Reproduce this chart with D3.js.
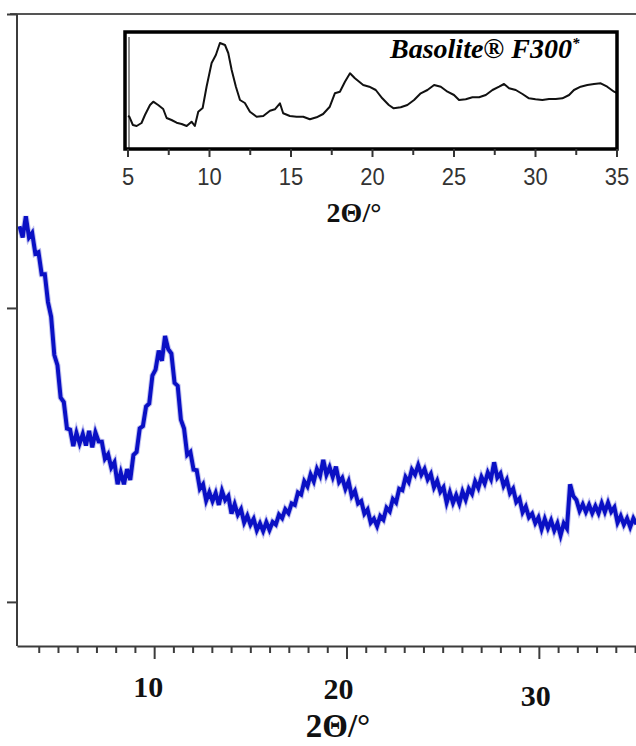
<!DOCTYPE html>
<html>
<head>
<meta charset="utf-8">
<script src="https://cdn.jsdelivr.net/npm/d3@7"></script>
<style>
  body { margin: 0; background: #fff; }
  svg { display: block; }
</style>
</head>
<body>
<script>
// Main pattern (blue), one intensity per step of the 2theta grid
const mainStart = 3.0;
const mainStep = 0.1645;
const mainIntensity = [
  1.278,1.240,1.312,1.240,1.255,1.185,1.190,1.115,1.115,1.020,
  0.970,0.840,0.805,0.695,0.680,0.590,0.586,0.530,0.575,0.539,
  0.571,0.532,0.582,0.526,0.576,0.546,0.545,0.487,0.502,0.457,
  0.475,0.400,0.440,0.400,0.452,0.415,0.500,0.510,0.590,0.598,
  0.665,0.675,0.770,0.790,0.855,0.820,0.905,0.860,0.845,0.745,
  0.735,0.620,0.590,0.500,0.510,0.450,0.448,0.385,0.400,0.345,
  0.373,0.343,0.370,0.330,0.377,0.346,0.360,0.300,0.332,0.297,
  0.315,0.270,0.293,0.263,0.282,0.244,0.267,0.241,0.271,0.245,
  0.272,0.263,0.297,0.285,0.315,0.302,0.335,0.330,0.372,0.365,
  0.410,0.393,0.433,0.410,0.452,0.430,0.483,0.433,0.458,0.425,
  0.460,0.408,0.422,0.385,0.410,0.360,0.377,0.335,0.343,0.300,
  0.314,0.270,0.283,0.258,0.292,0.280,0.320,0.308,0.350,0.338,
  0.385,0.380,0.425,0.408,0.450,0.433,0.465,0.433,0.452,0.417,
  0.435,0.390,0.412,0.375,0.390,0.338,0.372,0.337,0.363,0.335,
  0.375,0.348,0.385,0.368,0.410,0.388,0.425,0.403,0.440,0.418,
  0.475,0.423,0.437,0.395,0.415,0.370,0.385,0.340,0.352,0.305,
  0.324,0.288,0.300,0.268,0.287,0.248,0.282,0.251,0.277,0.243,
  0.267,0.227,0.267,0.250,0.400,0.360,0.347,0.310,0.332,0.306,
  0.330,0.302,0.326,0.302,0.335,0.306,0.337,0.307,0.322,0.270,
  0.292,0.263,0.284,0.255,0.284,0.264
];
const mainMajorTicks = [10, 20, 30];
const mainYTicks = [0, 1, 2];

// Inset pattern (Basolite F300 reference)
const insetTheta = [
  5.0, 5.08, 5.3, 5.53, 5.83, 6.04, 6.35, 6.55, 6.85, 7.16, 7.37, 7.67, 7.98,
  8.29, 8.6, 8.9, 9.1, 9.31, 9.58, 9.82, 10.13, 10.39, 10.64, 10.95, 11.15,
  11.36, 11.62, 11.87, 12.17, 12.48, 12.89, 13.3, 13.71, 14.01, 14.32, 14.52,
  14.93, 15.34, 15.75, 16.16, 16.57, 16.97, 17.38, 17.69, 18.0, 18.31, 18.62,
  18.92, 19.43, 19.8, 20.2, 20.6, 21.0, 21.3, 21.73, 22.14, 22.55, 22.96,
  23.37, 23.78, 24.19, 24.6, 25.0, 25.31, 25.72, 26.13, 26.54, 26.95, 27.36,
  27.77, 28.07, 28.38, 28.79, 29.2, 29.6, 30.0, 30.42, 30.83, 31.24, 31.65,
  32.06, 32.36, 32.77, 33.18, 33.59, 34.0, 34.4, 34.82, 35.0
];
const insetIntensity = [
  33, 32.3, 24, 23, 26, 34, 44, 47.3, 44, 40, 31, 29, 26.3,
  25, 23, 27.3, 23, 37.3, 41, 62.3, 86, 94, 106, 104, 96,
  79, 62.3, 49, 46, 37.3, 32.3, 33, 38.3, 39.7, 45.7, 35.7,
  33, 32.3, 32.3, 29.7, 31.7, 35, 42.3, 55.7, 57.3, 67.3, 75.7,
  70.7, 64, 62.3, 59, 50.7, 44, 40.7, 41.7, 44, 49, 55.7,
  59, 64, 62.3, 57.3, 54, 49, 49.7, 51.7, 51.7, 54, 59,
  62.3, 65, 60.7, 59, 55, 50.7, 49.7, 49, 50, 50, 50.7,
  54, 59, 62.3, 64, 65, 65.7, 62.3, 57.3, 56
];
const insetTicks = [5, 10, 15, 20, 25, 30, 35];
const insetMinorTicks = [7.5, 12.5, 17.5, 22.5, 27.5, 32.5];
const insetLabel = "Basolite® F300";
const axisTitle = "2\u0398/\u00b0";

const width = 636, height = 746;
const serif = "'Liberation Serif', 'Times New Roman', serif";
const sans = "'Liberation Sans', Arial, sans-serif";
const axisColor = "#3c3c3c";
const blue = "#0a10c4";

const svg = d3.select("body")
  .append("svg")
  .attr("width", width)
  .attr("height", height);

// ---- main chart ----
const x = d3.scaleLinear().domain([2.87, 35.05]).range([17, 636]);
const y = d3.scaleLinear().domain([-0.15, 2]).range([646, 14]);

const mainData = mainIntensity.map((v, i) => [mainStart + i * mainStep, v]);
const mainLine = d3.line().x(d => x(d[0])).y(d => y(d[1]));

// faint fringe under a thick core stroke: the noisy band look
svg.append("path")
  .datum(mainData)
  .attr("fill", "none")
  .attr("stroke", blue)
  .attr("stroke-opacity", 0.25)
  .attr("stroke-width", 6)
  .attr("stroke-linejoin", "miter")
  .attr("d", mainLine);
svg.append("path")
  .datum(mainData)
  .attr("fill", "none")
  .attr("stroke", blue)
  .attr("stroke-width", 4)
  .attr("stroke-linejoin", "miter")
  .attr("d", mainLine);

// top frame line
svg.append("line")
  .attr("x1", 10).attr("x2", width)
  .attr("y1", y(2)).attr("y2", y(2))
  .attr("stroke", "#555").attr("stroke-width", 2);

// left axis, ticks only
const yAxis = svg.append("g")
  .attr("transform", `translate(${x(2.87)},0)`)
  .call(d3.axisLeft(y).tickValues(mainYTicks).tickSize(10).tickFormat(""));
yAxis.select(".domain").attr("stroke", axisColor).attr("stroke-width", 2)
  .attr("d", `M0,${y(2)}V${y(-0.15)}`);
yAxis.selectAll(".tick line").attr("stroke", axisColor).attr("stroke-width", 2);

// bottom axis: a tick every degree, longer ones at 10/20/30
const xAxisG = svg.append("g")
  .attr("transform", `translate(0,${y(-0.15)})`);
xAxisG.call(d3.axisBottom(x).tickValues(d3.range(4, 36)).tickSize(7).tickFormat("").tickSizeOuter(0));
xAxisG.select(".domain").attr("stroke", axisColor).attr("stroke-width", 2);
xAxisG.selectAll(".tick line")
  .attr("stroke", axisColor).attr("stroke-width", 2)
  .attr("y2", d => mainMajorTicks.includes(d) ? 13 : 7);

const labelNudge = {10: [-6, 51], 20: [-8, 53], 30: [-3, 60]};
xAxisG.selectAll(".major-label")
  .data(mainMajorTicks)
  .enter()
  .append("text")
  .attr("class", "major-label")
  .attr("x", d => x(d) + labelNudge[d][0])
  .attr("y", d => labelNudge[d][1])
  .attr("text-anchor", "middle")
  .attr("font-family", serif)
  .attr("font-weight", "bold")
  .attr("font-size", 30)
  .attr("fill", "#111")
  .text(d => d);

svg.append("text")
  .attr("x", 338).attr("y", 737)
  .attr("text-anchor", "middle")
  .attr("font-family", serif)
  .attr("font-weight", "bold")
  .attr("font-size", 33)
  .attr("fill", "#111")
  .text(axisTitle);

// ---- inset ----
const xi = d3.scaleLinear().domain([5, 35]).range([128, 617]);
const yi = d3.scaleLinear().domain([0, 115]).range([149, 34]);

svg.append("rect")
  .attr("x", 125).attr("y", 32)
  .attr("width", 617 - 125).attr("height", 149 - 32)
  .attr("fill", "#fff");

svg.append("line")
  .attr("x1", xi(5) + 1).attr("x2", xi(5) + 1)
  .attr("y1", 37).attr("y2", 149)
  .attr("stroke", "#666").attr("stroke-width", 1.5);

const insetData = insetTheta.map((t, i) => [t, insetIntensity[i]]);
svg.append("path")
  .datum(insetData)
  .attr("fill", "none")
  .attr("stroke", "#111")
  .attr("stroke-width", 2)
  .attr("stroke-linejoin", "round")
  .attr("d", d3.line().x(d => xi(d[0])).y(d => yi(d[1])));

svg.append("rect")
  .attr("x", 125).attr("y", 32)
  .attr("width", 617 - 125).attr("height", 149 - 32)
  .attr("fill", "none")
  .attr("stroke", "#000")
  .attr("stroke-width", 3.5);

const insetAxis = svg.append("g")
  .attr("transform", "translate(0,149)");
insetAxis.selectAll(".major")
  .data(insetTicks)
  .enter()
  .append("line")
  .attr("x1", d => xi(d)).attr("x2", d => xi(d))
  .attr("y1", 0).attr("y2", 8)
  .attr("stroke", "#333").attr("stroke-width", 2);
insetAxis.selectAll(".minor")
  .data(insetMinorTicks)
  .enter()
  .append("line")
  .attr("x1", d => xi(d)).attr("x2", d => xi(d))
  .attr("y1", 0).attr("y2", 6)
  .attr("stroke", "#333").attr("stroke-width", 2);
insetAxis.selectAll("text")
  .data(insetTicks)
  .enter()
  .append("text")
  .attr("transform", d => `translate(${xi(d)},36) scale(1,1.1)`)
  .attr("text-anchor", "middle")
  .attr("font-family", sans)
  .attr("font-size", 22)
  .attr("fill", "#333")
  .text(d => d);

svg.append("text")
  .attr("x", 354).attr("y", 222)
  .attr("text-anchor", "middle")
  .attr("font-family", serif)
  .attr("font-weight", "bold")
  .attr("font-size", 28)
  .attr("fill", "#111")
  .text(axisTitle);

const label = svg.append("text")
  .attr("x", 390).attr("y", 58)
  .attr("font-family", serif)
  .attr("font-weight", "bold")
  .attr("font-style", "italic")
  .attr("font-size", 28)
  .attr("fill", "#000");
label.append("tspan").text(insetLabel);
label.append("tspan")
  .attr("dy", -10)
  .attr("font-size", 15)
  .text("*");
</script>
</body>
</html>
